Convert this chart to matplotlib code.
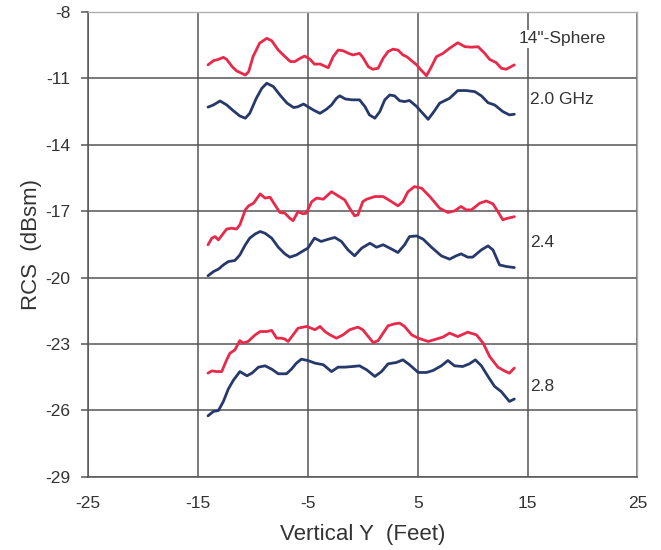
import matplotlib
matplotlib.use("Agg")
import matplotlib.pyplot as plt

plt.rcParams['font.family'] = ['Liberation Sans', 'DejaVu Sans']
plt.rcParams['axes.unicode_minus'] = False

# ---- data ----
x_20_red = [-14.1, -13.6, -13.2, -12.7, -12.4, -11.9, -11.5, -10.7, -10.4, -10.0, -9.4, -8.75, -8.3, -7.7,
            -7.25, -6.6, -6.2, -5.7, -5.3, -4.8, -4.4, -3.9, -3.5, -3.15, -2.7, -2.25, -1.8, -1.3, -0.9,
            -0.3, 0.0, 0.5, 0.9, 1.4, 1.85, 2.3, 2.75, 3.2, 3.65, 4.0, 4.9, 5.3, 5.8, 6.25, 6.7, 7.3, 7.9,
            8.65, 9.3, 9.9, 10.5, 11.1, 11.55, 12.15, 12.6, 13.05, 13.8]
y_20_red = [-10.39, -10.2, -10.15, -10.05, -10.14, -10.47, -10.66, -10.85, -10.7, -10.02, -9.41, -9.19,
            -9.3, -9.72, -9.94, -10.24, -10.24, -10.09, -9.99, -10.14, -10.36, -10.35, -10.44, -10.52,
            -10.02, -9.72, -9.75, -9.87, -9.94, -9.87, -10.05, -10.47, -10.59, -10.54, -10.09, -9.79,
            -9.68, -9.72, -9.94, -10.02, -10.39, -10.62, -10.88, -10.47, -10.02, -9.87, -9.64, -9.39,
            -9.57, -9.59, -9.57, -9.87, -10.14, -10.29, -10.54, -10.59, -10.39]

x_20_blue = [-14.1, -13.6, -13.0, -12.4, -11.8, -11.2, -10.7, -10.3, -9.7, -9.2, -8.75, -8.15, -7.55,
             -6.9, -6.3, -5.9, -5.4, -5.0, -4.5, -3.9, -3.3, -2.85, -2.4, -2.1, -1.6, -1.0, -0.3, 0.2,
             0.6, 1.1, 1.55, 2.0, 2.45, 2.9, 3.35, 3.8, 4.25, 4.9, 5.35, 5.95, 6.45, 7.0, 7.9, 8.65,
             9.4, 10.2, 10.8, 11.4, 12.0, 12.75, 13.35, 13.8]
y_20_blue = [-12.3, -12.2, -12.02, -12.2, -12.46, -12.7, -12.8, -12.58, -11.9, -11.45, -11.22, -11.37,
             -11.75, -12.12, -12.32, -12.28, -12.16, -12.28, -12.43, -12.58, -12.39, -12.2, -11.9,
             -11.79, -11.93, -11.97, -11.97, -12.28, -12.65, -12.8, -12.5, -11.97, -11.75, -11.79,
             -12.01, -12.05, -12.0, -12.27, -12.52, -12.85, -12.52, -12.12, -11.9, -11.55, -11.55,
             -11.6, -11.79, -12.1, -12.2, -12.5, -12.65, -12.62]

x_24_red = [-14.1, -13.75, -13.45, -13.15, -12.7, -12.4, -11.95, -11.5, -11.2, -10.7, -10.4, -9.95,
            -9.35, -8.9, -8.45, -8.0, -7.55, -7.1, -6.65, -6.35, -5.9, -5.45, -5.15, -4.65, -4.2, -3.6,
            -2.85, -2.25, -1.65, -1.2, -0.75, -0.45, 0.0, 0.35, 1.1, 1.85, 2.45, 3.2, 3.65, 4.1, 4.7,
            5.35, 6.1, 7.0, 7.75, 8.35, 8.95, 9.4, 9.9, 10.65, 11.25, 11.85, 12.3, 12.75, 13.2, 13.8]
y_24_red = [-18.52, -18.22, -18.15, -18.3, -18.0, -17.81, -17.77, -17.81, -17.62, -16.94, -16.76,
            -16.64, -16.22, -16.41, -16.37, -16.72, -17.06, -17.09, -17.32, -17.43, -17.02, -17.12,
            -17.09, -16.57, -16.41, -16.46, -16.12, -16.31, -16.49, -16.87, -17.21, -17.17, -16.57,
            -16.46, -16.34, -16.34, -16.52, -16.76, -16.57, -16.13, -15.89, -15.96, -16.34, -16.87,
            -17.06, -16.99, -16.79, -16.94, -16.94, -16.64, -16.54, -16.67, -17.02, -17.39, -17.32,
            -17.25]

x_24_blue = [-14.1, -13.6, -13.15, -12.7, -12.25, -11.65, -11.2, -10.7, -10.3, -9.8, -9.35, -8.9, -8.3,
             -7.7, -7.1, -6.65, -6.05, -5.45, -5.0, -4.4, -3.8, -3.15, -2.55, -1.95, -1.35, -0.75,
             -0.1, 0.65, 1.25, 1.85, 2.45, 3.2, 3.8, 4.25, 4.9, 5.5, 6.25, 7.15, 7.9, 8.5, 8.95, 9.55,
             10.0, 10.8, 11.4, 11.85, 12.45, 13.05, 13.8]
y_24_blue = [-19.92, -19.73, -19.62, -19.43, -19.28, -19.23, -18.98, -18.52, -18.22, -18.03, -17.92,
             -18.0, -18.22, -18.63, -18.93, -19.08, -18.98, -18.8, -18.67, -18.22, -18.37, -18.27,
             -18.19, -18.37, -18.75, -19.02, -18.67, -18.45, -18.63, -18.52, -18.67, -18.87, -18.52,
             -18.15, -18.12, -18.27, -18.63, -19.02, -19.17, -19.02, -18.93, -19.08, -19.08, -18.75,
             -18.57, -18.75, -19.43, -19.5, -19.55]

x_28_red = [-14.1, -13.75, -13.3, -12.85, -12.4, -12.1, -11.65, -11.2, -10.9, -10.45, -9.8, -9.35,
            -8.75, -8.3, -7.85, -7.4, -7.1, -6.8, -6.35, -5.9, -5.1, -4.35, -3.9, -3.45, -3.0, -2.4,
            -1.8, -1.2, -0.45, 0.0, 0.5, 0.95, 1.4, 1.85, 2.3, 2.9, 3.35, 3.8, 4.45, 5.05, 5.95, 6.7,
            7.3, 7.9, 8.65, 9.55, 10.35, 10.95, 11.55, 12.3, 12.9, 13.35, 13.8]
y_28_red = [-24.32, -24.22, -24.25, -24.25, -23.72, -23.42, -23.27, -22.85, -22.96, -22.89, -22.59,
            -22.44, -22.44, -22.39, -22.74, -22.74, -22.78, -22.89, -22.59, -22.29, -22.21, -22.36,
            -22.21, -22.44, -22.59, -22.74, -22.59, -22.36, -22.24, -22.36, -22.67, -22.94, -22.85,
            -22.51, -22.18, -22.09, -22.06, -22.21, -22.59, -22.74, -22.89, -22.78, -22.69, -22.51,
            -22.67, -22.47, -22.59, -22.96, -23.57, -24.05, -24.22, -24.32, -24.09]

x_28_blue = [-14.1, -13.6, -13.15, -12.7, -12.25, -11.8, -11.2, -10.55, -10.1, -9.5, -8.9, -8.3, -7.7,
             -6.95, -6.5, -6.05, -5.6, -5.0, -4.35, -3.6, -2.85, -2.25, -1.65, -0.9, -0.3, 0.35, 1.1,
             1.7, 2.3, 3.05, 3.65, 4.25, 5.05, 5.8, 6.4, 7.15, 7.75, 8.35, 9.1, 9.7, 10.25, 10.8, 11.4,
             12.0, 12.6, 13.35, 13.8]
y_28_blue = [-26.25, -26.05, -26.01, -25.6, -25.04, -24.65, -24.25, -24.44, -24.32, -24.05, -23.99,
             -24.14, -24.35, -24.35, -24.14, -23.87, -23.69, -23.75, -23.87, -23.94, -24.25, -24.05,
             -24.05, -24.02, -23.99, -24.17, -24.47, -24.25, -23.9, -23.84, -23.72, -23.94, -24.29,
             -24.29, -24.2, -23.99, -23.75, -23.99, -24.02, -23.9, -23.72, -23.99, -24.47, -24.92,
             -25.15, -25.6, -25.49]

x_ticks = [-25, -15, -5, 5, 15, 25]
y_ticks = [-8, -11, -14, -17, -20, -23, -26, -29]

labels = ['14"-Sphere', '2.0 GHz', '2.4', '2.8']
label_x = [14.2, 15.25, 15.25, 15.25]
label_y = [-9.22, -11.97, -18.43, -24.94]

RED = '#e8294a'
BLUE = '#26396a'
GRID = '#555555'

fig = plt.figure(figsize=(6.61, 5.50), dpi=100)
ax = fig.add_axes([0.1336, 0.1333, 0.8306, 0.8449])

for xs, ys, c in [(x_20_red, y_20_red, RED), (x_20_blue, y_20_blue, BLUE),
                  (x_24_red, y_24_red, RED), (x_24_blue, y_24_blue, BLUE),
                  (x_28_red, y_28_red, RED), (x_28_blue, y_28_blue, BLUE)]:
    ax.plot(xs, ys, color=c, lw=2.0, solid_joinstyle='round', solid_capstyle='round', zorder=3)

ax.set_xlim(-25, 25)
ax.set_ylim(-29, -8)
ax.set_xticks(x_ticks)
ax.set_yticks(y_ticks)
ax.grid(True, color=GRID, lw=1.1, zorder=1)
ax.set_axisbelow(True)

for s in ['left', 'bottom']:
    ax.spines[s].set_color(GRID)
    ax.spines[s].set_linewidth(1.1)
for s in ['top', 'right']:
    ax.spines[s].set_color('#b0b0b0')
    ax.spines[s].set_linewidth(1.0)

ax.tick_params(axis='y', length=5, width=1.1, color=GRID, pad=8, labelsize=12.5, labelcolor='#333333')
ax.tick_params(axis='x', length=0, pad=14, labelsize=12.5, labelcolor='#333333')

ax.set_xlabel('Vertical Y  (Feet)', fontsize=16, color='#333333', labelpad=9)
ax.set_ylabel('RCS  (dBsm)', fontsize=16, color='#333333', labelpad=2)

for t, lx, ly in zip(labels, label_x, label_y):
    ax.text(lx, ly, t, ha='left', va='center', fontsize=12.5, color='#333333', zorder=4,
            bbox=dict(facecolor='white', edgecolor='none', pad=1))

fig.savefig('out.png', dpi=100)
